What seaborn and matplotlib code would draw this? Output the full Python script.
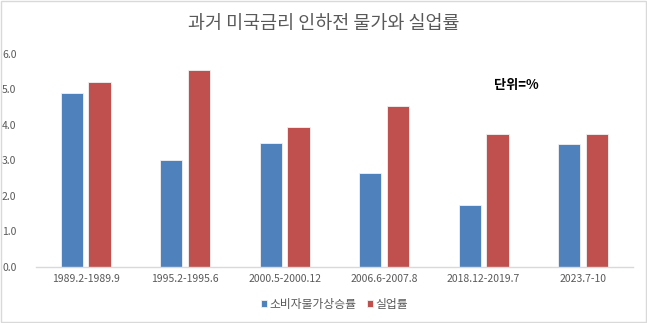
import matplotlib
matplotlib.use("Agg")
import matplotlib.pyplot as plt
from matplotlib.patches import Rectangle
import seaborn as sns
import pandas as pd

periods = ["1989.2-1989.9", "1995.2-1995.6", "2000.5-2000.12",
           "2006.6-2007.8", "2018.12-2019.7", "2023.7-10"]
cpi = [4.9, 3.0, 3.5, 2.65, 1.75, 3.45]
unemployment = [5.2, 5.55, 3.95, 4.53, 3.75, 3.75]
series_names = ["소비자물가상승률", "실업률"]
yticks = [0.0, 1.0, 2.0, 3.0, 4.0, 5.0, 6.0]

df = pd.DataFrame({
    "period": periods * 2,
    "value": cpi + unemployment,
    "series": [series_names[0]] * len(periods) + [series_names[1]] * len(periods),
})

sns.set_theme(style="white")
plt.rcParams["font.family"] = ["Noto Sans CJK KR", "DejaVu Sans"]

text_gray = "#595959"
fig = plt.figure(figsize=(6.47, 3.23), dpi=100)
ax = fig.add_axes([0.0556, 0.174, 0.9224, 0.659])

sns.barplot(data=df, x="period", y="value", hue="series",
            palette=["#4F81BD", "#C0504D"], saturation=1, width=0.56, gap=0.2,
            edgecolor="#F2F2F2", linewidth=0.6, ax=ax, legend=True)

ax.set_ylim(0, 6)
ax.set_yticks(yticks)
ax.set_yticklabels([f"{v:.1f}" for v in yticks])
ax.set_xlim(-0.5, len(periods) - 0.5)
ax.set_xlabel("")
ax.set_ylabel("")
ax.tick_params(axis="both", length=0, colors=text_gray, labelsize=7.5)
ax.tick_params(axis="y", pad=14)
ax.tick_params(axis="x", pad=5)
for side in ["left", "right", "top"]:
    ax.spines[side].set_visible(False)
ax.spines["bottom"].set_color("#D9D9D9")
ax.spines["bottom"].set_linewidth(1.0)

leg = ax.legend(loc="center", bbox_to_anchor=(0.5, -0.175), ncol=2,
                frameon=False, fontsize=8.5, handlelength=0.5, handleheight=0.5,
                handletextpad=0.2, columnspacing=0.9)
for t in leg.get_texts():
    t.set_color(text_gray)

fig.text(0.5, 0.925, "과거 미국금리 인하전 물가와 실업률", ha="center", va="center",
         fontsize=13.3, color=text_gray)
ax.text(0.805, 0.855, "단위=%", transform=ax.transAxes, ha="center", va="center",
        fontsize=9.5, color="black", fontweight="bold")

fig.patches.append(Rectangle((0.002, 0.003), 0.996, 0.994, transform=fig.transFigure,
                             fill=False, edgecolor="#D9D9D9", linewidth=1.0))

fig.savefig("out.png", dpi=100)
